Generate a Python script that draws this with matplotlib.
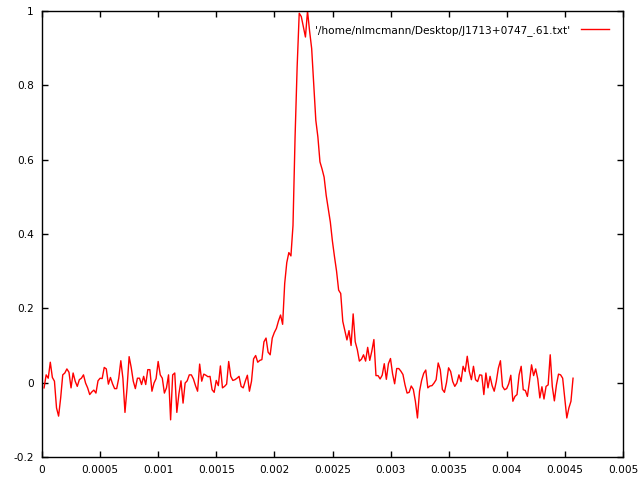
import numpy as np
import matplotlib
matplotlib.use('Agg')
import matplotlib.pyplot as plt

# pulse profile of J1713+0747, 256 phase bins over one period (seconds)
period = 0.00457
nbins = 256
intensity = [
    -0.014, 0.021, 0.012, 0.055, 0.014, 0.004, -0.068, -0.090, -0.041, 0.021,
    0.026, 0.037, 0.028, -0.014, 0.026, 0.004, -0.010, 0.008, 0.012, 0.021,
    -0.001, -0.014, -0.032, -0.025, -0.020, -0.028, 0.005, 0.012, 0.011, 0.041,
    0.037, -0.004, 0.014, -0.003, -0.016, -0.016, 0.012, 0.059, 0.012, -0.080,
    -0.014, 0.070, 0.041, 0.004, -0.016, 0.012, 0.012, -0.005, 0.017, -0.005,
    0.035, 0.035, -0.023, -0.001, 0.011, 0.057, 0.021, 0.012, -0.028, -0.014,
    0.021, -0.100, 0.021, 0.026, -0.080, -0.030, 0.005, -0.055, -0.001, 0.005,
    0.021, 0.021, 0.010, -0.008, -0.023, 0.050, 0.004, 0.023, 0.020, 0.016,
    0.017, -0.019, -0.026, 0.006, -0.008, 0.045, -0.014, -0.010, -0.004, 0.057,
    0.017, 0.006, 0.008, 0.012, 0.017, -0.010, -0.014, 0.004, 0.020, -0.023,
    0.004, 0.064, 0.073, 0.055, 0.060, 0.062, 0.110, 0.120, 0.082, 0.075,
    0.120, 0.135, 0.146, 0.166, 0.182, 0.157, 0.267, 0.323, 0.350, 0.341,
    0.423, 0.661, 0.850, 0.994, 0.985, 0.958, 0.930, 1.000, 0.946, 0.899,
    0.800, 0.706, 0.661, 0.594, 0.575, 0.553, 0.504, 0.468, 0.432, 0.381,
    0.339, 0.300, 0.249, 0.240, 0.165, 0.140, 0.115, 0.140, 0.100, 0.185,
    0.110, 0.089, 0.058, 0.063, 0.075, 0.058, 0.095, 0.060, 0.085, 0.116,
    0.019, 0.019, 0.010, 0.020, 0.051, 0.009, 0.051, 0.065, 0.024, -0.003,
    0.038, 0.038, 0.031, 0.022, -0.006, -0.028, -0.026, -0.009, -0.018, -0.050,
    -0.095, -0.023, 0.006, 0.025, 0.034, -0.014, -0.009, -0.008, -0.001, 0.008,
    0.053, 0.035, -0.018, -0.026, 0.000, 0.040, 0.030, 0.003, -0.010, -0.001,
    0.021, 0.003, 0.044, 0.030, 0.071, 0.030, 0.008, 0.044, 0.008, 0.003,
    0.021, 0.020, -0.032, 0.026, -0.014, 0.017, -0.008, -0.023, 0.003, 0.039,
    0.059, -0.010, -0.019, -0.016, -0.003, 0.020, -0.050, -0.037, -0.032, 0.021,
    0.044, -0.019, -0.021, -0.037, 0.003, 0.048, 0.019, 0.037, 0.010, -0.041,
    -0.011, -0.044, -0.010, -0.006, 0.075, -0.010, -0.049, -0.006, 0.023, 0.021,
    0.012, -0.041, -0.095, -0.068, -0.050, 0.012,
]
phase = np.arange(1, nbins + 1) * period / nbins

xticks = [0, 0.0005, 0.001, 0.0015, 0.002, 0.0025, 0.003, 0.0035, 0.004, 0.0045, 0.005]
xlabels = ['0', '0.0005', '0.001', '0.0015', '0.002', '0.0025', '0.003', '0.0035', '0.004', '0.0045', '0.005']
yticks = [-0.2, 0, 0.2, 0.4, 0.6, 0.8, 1]
ylabels = ['-0.2', '0', '0.2', '0.4', '0.6', '0.8', '1']

fig = plt.figure(figsize=(6.4, 4.8), dpi=100)
ax = fig.add_axes([42/640, 1 - 457/480, (623-42)/640, (457-11)/480])
ax.plot(phase, intensity, color='red', linewidth=1,
        label="'/home/nlmcmann/Desktop/J1713+0747_.61.txt'")
ax.set_xlim(0, 0.005)
ax.set_ylim(-0.2, 1)
ax.set_xticks(xticks)
ax.set_xticklabels(xlabels)
ax.set_yticks(yticks)
ax.set_yticklabels(ylabels)
ax.tick_params(direction='in', length=4.5, width=1, top=True, right=True,
               labelsize=7.6, pad=6)
for s in ax.spines.values():
    s.set_linewidth(1)
ax.legend(loc='upper right', frameon=False, markerfirst=False, fontsize=7.6,
          handlelength=2.7, borderaxespad=0.9, handletextpad=1.0)

plt.savefig('out.png', dpi=100)
